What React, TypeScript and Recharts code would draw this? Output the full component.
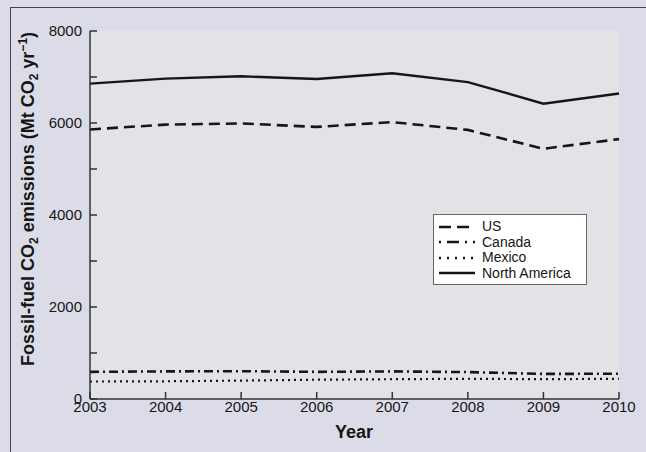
import { CartesianGrid, Legend, Line, LineChart, XAxis, YAxis } from "recharts";

const years = [2003, 2004, 2005, 2006, 2007, 2008, 2009, 2010];
const usValues = [5860, 5965, 5990, 5915, 6020, 5850, 5440, 5650];
const canadaValues = [590, 600, 605, 590, 600, 585, 545, 550];
const mexicoValues = [380, 385, 400, 420, 430, 440, 430, 440];
const northAmericaValues = [6855, 6965, 7015, 6955, 7080, 6890, 6420, 6640];
const yTicks = [0, 1000, 2000, 3000, 4000, 5000, 6000, 7000, 8000];

const data = years.map((year, i) => ({
  year,
  us: usValues[i],
  canada: canadaValues[i],
  mexico: mexicoValues[i],
  northAmerica: northAmericaValues[i],
}));

const INK = "#161616";
const FONT = "Liberation Sans, Arial, sans-serif";

const seriesStyles = [
  { key: "us", name: "US", dash: "11 6", width: 2.6 },
  { key: "canada", name: "Canada", dash: "9 4 2 4", width: 2.6 },
  { key: "mexico", name: "Mexico", dash: "2 4", width: 2.2 },
  { key: "northAmerica", name: "North America", dash: undefined, width: 2.4 },
];

const legendDash: Record<string, string | undefined> = {
  US: "12 6",
  Canada: "2 6 12 6",
  Mexico: "2 6",
  "North America": undefined,
};

function LegendBox() {
  return (
    <div
      style={{
        background: "#fff",
        border: "1.5px solid #666",
        padding: "4px 6px 3px 4px",
        width: 142,
        fontFamily: FONT,
        fontSize: 14,
        color: INK,
        lineHeight: "15.5px",
      }}
    >
      {seriesStyles.map((s) => (
        <div key={s.key} style={{ display: "flex", alignItems: "center" }}>
          <svg width={38} height={10} style={{ marginRight: 6 }}>
            <line
              x1={1}
              y1={5}
              x2={37}
              y2={5}
              stroke={INK}
              strokeWidth={2.6}
              strokeDasharray={legendDash[s.name]}
            />
          </svg>
          <span>{s.name}</span>
        </div>
      ))}
    </div>
  );
}

function YLabel() {
  return (
    <text
      transform="translate(34, 199) rotate(-90)"
      textAnchor="middle"
      fontFamily={FONT}
      fontWeight="bold"
      fontSize={18}
      fill={INK}
    >
      Fossil-fuel CO
      <tspan fontSize={12} dy={4}>2</tspan>
      <tspan dy={-4}> emissions (Mt CO</tspan>
      <tspan fontSize={12} dy={4}>2</tspan>
      <tspan dy={-4}> yr</tspan>
      <tspan fontSize={12} dy={-7}>−1</tspan>
      <tspan dy={7}>)</tspan>
    </text>
  );
}

function XLabel() {
  return (
    <text x={354} y={438} textAnchor="middle" fontFamily={FONT} fontWeight="bold" fontSize={18} fill={INK}>
      Year
    </text>
  );
}

export default function App() {
  const tickStyle = { fontSize: 15, fill: INK, fontFamily: FONT };
  return (
    <div
      style={{
        position: "absolute",
        left: 0,
        top: 0,
        width: 646,
        height: 452,
        background: "#dcdce9",
        overflow: "hidden",
      }}
    >
      <div
        style={{
          position: "absolute",
          left: 10,
          top: 7,
          right: -5,
          bottom: -5,
          borderTop: "1.5px solid #444",
          borderLeft: "1.5px solid #444",
        }}
      />
      <div style={{ position: "absolute", left: 0, top: 0 }}>
        <LineChart width={646} height={452} data={data} margin={{ top: 31, right: 27, bottom: 23, left: 30 }}>
          <CartesianGrid horizontal={false} vertical={false} fill="#e2e3e7" />
          <XAxis
            dataKey="year"
            type="number"
            domain={[2003, 2010]}
            ticks={years}
            tickSize={-7}
            tickMargin={9}
            height={30}
            tick={tickStyle}
            stroke="#333"
            strokeWidth={1.5}
            interval={0}
          />
          <XAxis
            xAxisId="top"
            dataKey="year"
            type="number"
            orientation="top"
            domain={[2003, 2010]}
            ticks={years}
            tickSize={-7}
            height={0}
            tickFormatter={() => ""}
            stroke="#333"
            strokeWidth={1.5}
            interval={0}
          />
          <YAxis
            yAxisId="left"
            domain={[0, 8000]}
            ticks={yTicks}
            interval={0}
            tickSize={-7}
            tickMargin={15}
            width={60}
            tick={tickStyle}
            tickFormatter={(v) => (v % 2000 === 0 ? String(v) : "")}
            stroke="#333"
            strokeWidth={1.5}
          />
          <YAxis
            yAxisId="right"
            orientation="right"
            domain={[0, 8000]}
            ticks={yTicks}
            interval={0}
            tickSize={-7}
            width={0}
            tickFormatter={() => ""}
            stroke="#333"
            strokeWidth={1.5}
          />
          {seriesStyles.map((s) => (
            <Line
              key={s.key}
              yAxisId="left"
              type="linear"
              dataKey={s.key}
              name={s.name}
              stroke={INK}
              strokeWidth={s.width}
              strokeDasharray={s.dash}
              dot={false}
              activeDot={false}
              isAnimationActive={false}
            />
          ))}
          <Legend
            layout="vertical"
            align="center"
            verticalAlign="middle"
            content={() => <LegendBox />}
            wrapperStyle={{ position: "absolute", left: 433, top: 214, width: 156, height: 70 }}
          />
          <YLabel />
          <XLabel />
        </LineChart>
      </div>
    </div>
  );
}
